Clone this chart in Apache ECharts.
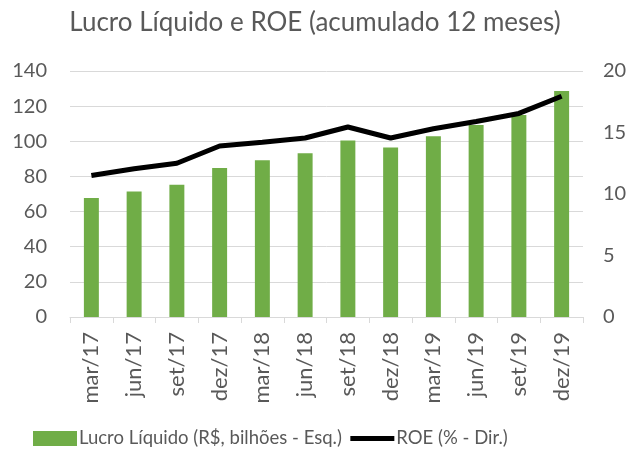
<!DOCTYPE html>
<html>
<head>
<meta charset="utf-8">
<script src="https://cdn.jsdelivr.net/npm/echarts@6/dist/echarts.min.js"></script>
<style>
  html, body { margin: 0; padding: 0; background: #fff; }
  #chart { width: 630px; height: 456px; }
</style>
</head>
<body>
<div id="chart"></div>
<script>
// Dados do gráfico
const categorias = ['mar/17', 'jun/17', 'set/17', 'dez/17', 'mar/18', 'jun/18',
                    'set/18', 'dez/18', 'mar/19', 'jun/19', 'set/19', 'dez/19'];
const lucroLiquido = [67.7, 71.4, 75.3, 84.8, 89.2, 93.2, 100.4, 96.4, 102.9, 109.2, 115.0, 128.6];
const roe = [11.5, 12.05, 12.5, 13.9, 14.2, 14.55, 15.45, 14.55, 15.3, 15.9, 16.55, 17.95];
const ticksEsq = [0, 20, 40, 60, 80, 100, 120, 140];
const ticksDir = [0, 5, 10, 15, 20];

const fonte = 'Lato, "Open Sans", sans-serif';
const cinza = '#595959';

const chart = echarts.init(document.getElementById('chart'));

chart.setOption({
    animation: false,
    backgroundColor: '#ffffff',
    title: {
        text: 'Lucro Líquido e ROE (acumulado 12 meses)',
        left: 'center',
        top: 5,
        textStyle: { fontFamily: fonte, fontSize: 26, fontWeight: 'normal', color: cinza }
    },
    legend: {
        bottom: 3,
        left: 28,
        itemGap: 6,
        itemWidth: 44,
        itemHeight: 15,
        textStyle: { fontFamily: fonte, fontSize: 18.5, color: cinza, padding: [0, 0, 0, -3] },
        data: [
            { name: 'Lucro Líquido (R$, bilhões - Esq.)', icon: 'rect' },
            {
                name: 'ROE (% - Dir.)',
                itemStyle: { color: 'transparent', borderWidth: 0, opacity: 0 },
                lineStyle: { color: '#000000', width: 5 }
            }
        ]
    },
    grid: { left: 70, right: 47, top: 71, bottom: 139 },
    xAxis: {
        type: 'category',
        data: categorias,
        boundaryGap: true,
        axisLine: { lineStyle: { color: '#d9d9d9', width: 1 } },
        axisTick: { show: true, length: 6, lineStyle: { color: '#d9d9d9' } },
        axisLabel: { rotate: 90, fontFamily: fonte, fontSize: 22, color: cinza, margin: 15 }
    },
    yAxis: [
        {
            type: 'value',
            min: ticksEsq[0],
            max: ticksEsq[ticksEsq.length - 1],
            interval: 20,
            axisLine: { show: false },
            axisTick: { show: false },
            splitLine: { lineStyle: { color: '#d9d9d9', width: 1 } },
            axisLabel: { fontFamily: fonte, fontSize: 20, color: cinza, margin: 23 }
        },
        {
            type: 'value',
            min: ticksDir[0],
            max: ticksDir[ticksDir.length - 1],
            interval: 5,
            axisLine: { show: false },
            axisTick: { show: false },
            splitLine: { show: false },
            axisLabel: { fontFamily: fonte, fontSize: 20, color: cinza, margin: 20 }
        }
    ],
    series: [
        {
            name: 'Lucro Líquido (R$, bilhões - Esq.)',
            type: 'bar',
            yAxisIndex: 0,
            barWidth: '35%',
            data: lucroLiquido,
            itemStyle: { color: '#70ad47' }
        },
        {
            name: 'ROE (% - Dir.)',
            type: 'line',
            yAxisIndex: 1,
            data: roe,
            symbol: 'none',
            lineStyle: { color: '#000000', width: 5 },
            itemStyle: { color: '#000000' }
        }
    ]
});
</script>
</body>
</html>
